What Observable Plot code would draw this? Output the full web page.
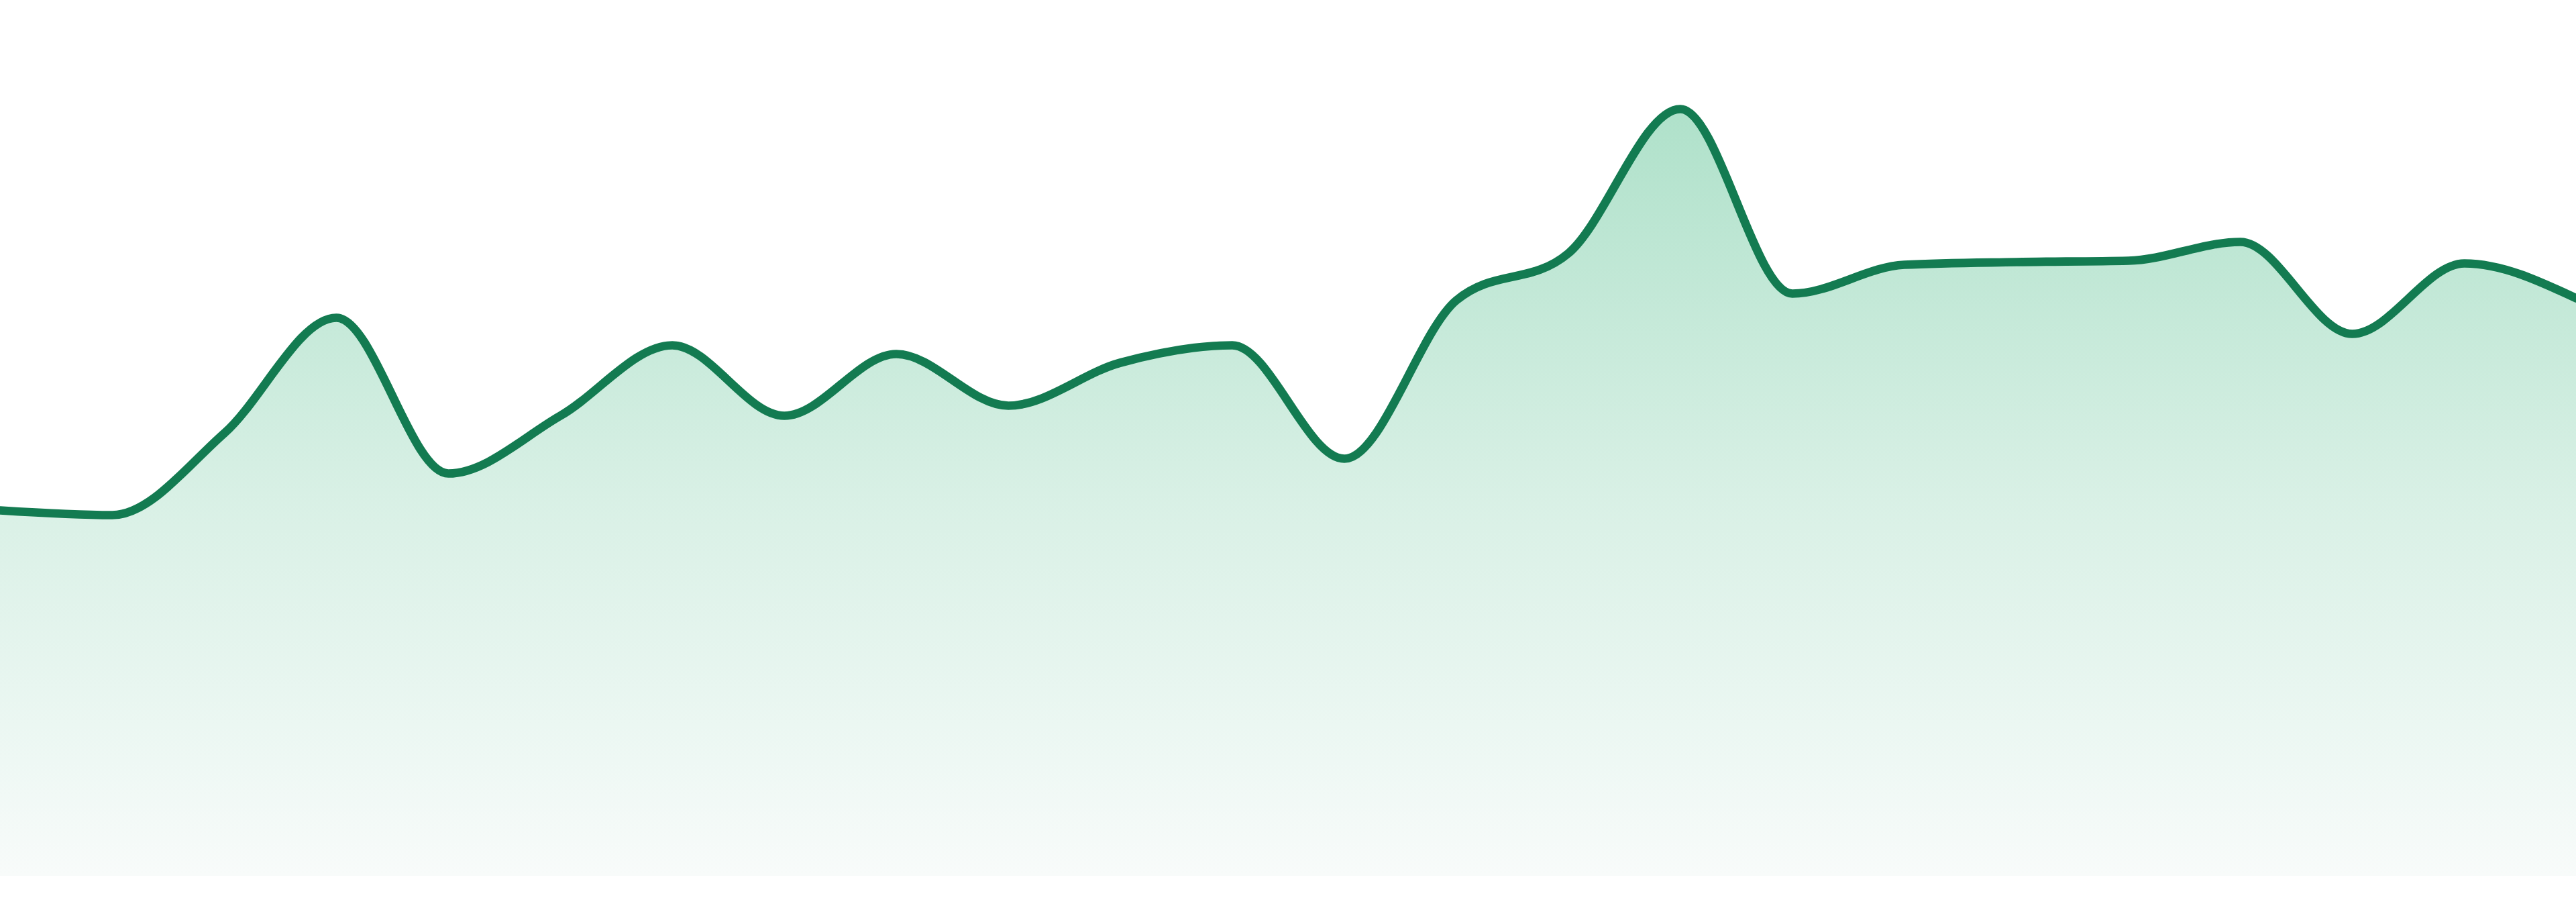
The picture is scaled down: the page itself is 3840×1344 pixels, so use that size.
<!DOCTYPE html>
<html>
<head>
<meta charset="utf-8">
<script src="https://cdn.jsdelivr.net/npm/d3@7"></script>
<script src="https://cdn.jsdelivr.net/npm/@observablehq/plot@0.6"></script>
<style>
  html, body { margin: 0; padding: 0; background: #ffffff; }
  #chart { width: 3840px; height: 1344px; overflow: hidden; }
</style>
</head>
<body>
<div id="chart"></div>
<script>
const periods = d3.range(24);
const values = [54.5, 53.8, 66.0, 83.2, 60.0, 68.6, 79.1, 68.6, 77.8, 70.1, 76.5, 79.1,
                62.2, 85.8, 92.8, 114.3, 86.8, 91.1, 91.5, 91.7, 94.5, 80.8, 91.3, 86.1];
const lineColor = "#137b51";
const gradientStops = [
  {offset: "0%", color: "#afe1ca"},
  {offset: "50%", color: "#d8f0e5"},
  {offset: "85%", color: "#eef8f4"},
  {offset: "100%", color: "#f8fbfa"}
];

const data = periods.map((p, i) => ({p, v: values[i]}));

const chart = Plot.plot({
  width: 3840,
  height: 1344,
  marginTop: 0,
  marginRight: 0,
  marginLeft: 0,
  marginBottom: 39,
  x: {domain: [0, 23], axis: null},
  y: {domain: [0, 130.5], axis: null},
  marks: [
    Plot.areaY(data, {x: "p", y: "v", curve: "monotone-x", fill: "url(#areaGrad)"}),
    Plot.lineY(data, {x: "p", y: "v", curve: "monotone-x", stroke: lineColor, strokeWidth: 12.7, strokeLinejoin: "round"})
  ]
});

const svg = d3.select(chart);
const defs = svg.insert("defs", ":first-child");
const grad = defs.append("linearGradient")
  .attr("id", "areaGrad")
  .attr("x1", 0).attr("y1", 0).attr("x2", 0).attr("y2", 1);
gradientStops.forEach(s => grad.append("stop").attr("offset", s.offset).attr("stop-color", s.color));

document.getElementById("chart").appendChild(chart);
</script>
</body>
</html>
